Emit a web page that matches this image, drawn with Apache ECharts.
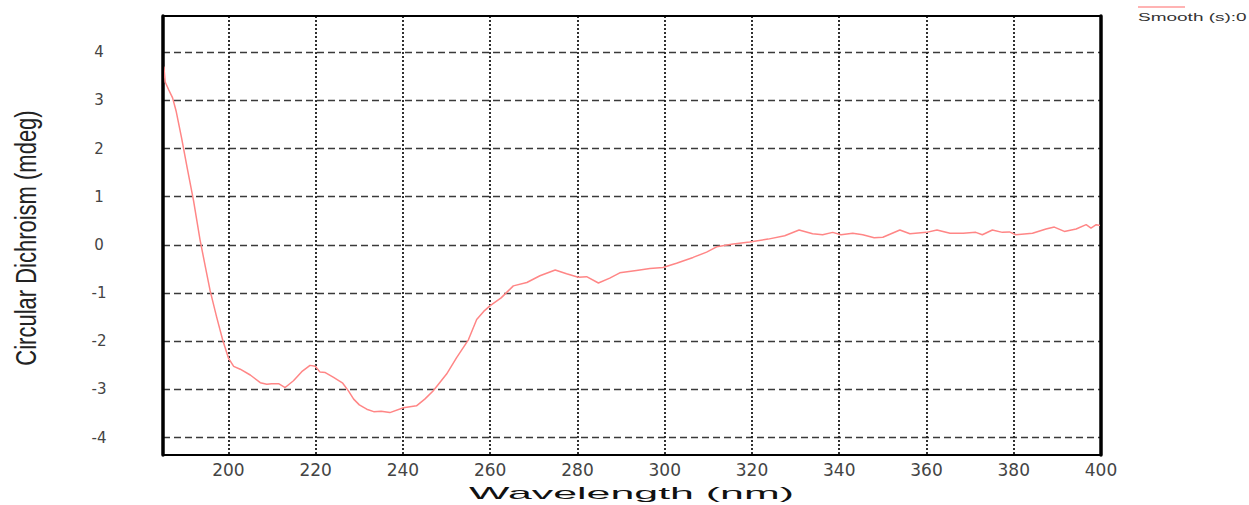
<!DOCTYPE html>
<html>
<head>
<meta charset="utf-8">
<script src="https://cdn.jsdelivr.net/npm/echarts@6/dist/echarts.min.js"></script>
<style>
  html, body { margin: 0; padding: 0; background: #fff; }
  #chart { width: 1249px; height: 505px; }
</style>
</head>
<body>
<div id="chart"></div>
<script>
// CD spectrum (smoothed), wavelength in nm and ellipticity in mdeg
const wavelengths = [
  185.2, 185.5, 186.3, 187.2, 188.0, 189.3, 190.5, 192.0, 193.5, 194.7,
  195.8, 197.3, 198.7, 200.0, 201.2, 202.7, 205.0, 207.3, 208.8, 209.9,
  211.5, 213.0, 214.9, 216.8, 218.7, 219.9, 221.0, 222.2, 224.1, 226.2,
  227.5, 228.7, 230.0, 231.7, 233.3, 235.0, 237.0, 240.1, 243.1, 245.0,
  246.9, 248.5, 250.0, 252.3, 255.0, 256.9, 258.5, 260.0, 262.5, 265.3,
  268.4, 271.4, 274.9, 277.5, 280.2, 282.1, 284.8, 287.4, 289.7, 293.5,
  296.6, 299.6, 302.7, 306.5, 309.6, 311.9, 315.7, 319.5, 323.7, 327.5,
  330.8, 333.9, 336.2, 338.5, 340.4, 343.1, 345.4, 348.0, 350.0, 353.9,
  356.2, 360.0, 362.4, 365.4, 368.4, 371.3, 372.8, 375.1, 377.4, 379.0,
  380.5, 384.3, 387.4, 389.3, 391.6, 394.3, 396.6, 397.7, 398.9, 400.0
];
const cdValues = [
  3.70, 3.38, 3.22, 3.05, 2.78, 2.20, 1.62, 0.92, 0.10, -0.45,
  -0.95, -1.50, -1.98, -2.35, -2.52, -2.58, -2.70, -2.86, -2.89, -2.88,
  -2.88, -2.96, -2.82, -2.63, -2.50, -2.52, -2.64, -2.65, -2.75, -2.87,
  -3.03, -3.20, -3.32, -3.41, -3.46, -3.45, -3.48, -3.38, -3.34, -3.20,
  -3.03, -2.85, -2.68, -2.34, -1.97, -1.55, -1.38, -1.26, -1.10, -0.85,
  -0.78, -0.64, -0.52, -0.60, -0.67, -0.66, -0.79, -0.69, -0.58, -0.53,
  -0.49, -0.47, -0.38, -0.26, -0.15, -0.04, 0.02, 0.06, 0.12, 0.19,
  0.31, 0.23, 0.21, 0.26, 0.21, 0.24, 0.21, 0.15, 0.16, 0.31,
  0.23, 0.26, 0.31, 0.24, 0.24, 0.26, 0.21, 0.31, 0.26, 0.27,
  0.21, 0.24, 0.33, 0.37, 0.28, 0.33, 0.42, 0.35, 0.42, 0.40
];

const xTickValues = [200, 220, 240, 260, 280, 300, 320, 340, 360, 380, 400];
const yTickValues = [-4, -3, -2, -1, 0, 1, 2, 3, 4];

const seriesName = 'Smooth (s):0';
const xTitle = 'Wavelength (nm)';
const yTitle = 'Circular Dichroism (mdeg)';

const xRange = [185, 400];
const yRange = [-4.36, 4.75];

const chart = echarts.init(document.getElementById('chart'), null, { renderer: 'svg' });

chart.setOption({
  animation: false,
  backgroundColor: '#ffffff',
  grid: {
    left: 163, right: 148, top: 16, bottom: 50,
    show: true, z: 10,
    borderColor: '#000', borderWidth: 2,
    backgroundColor: 'transparent'
  },
  xAxis: {
    type: 'value',
    min: xRange[0], max: xRange[1],
    minInterval: 20, maxInterval: 20, splitNumber: 11,
    axisLine: { show: true, onZero: false, lineStyle: { color: '#000', width: 2 } },
    axisTick: { show: false },
    axisLabel: {
      showMinLabel: false,
      margin: 6,
      fontFamily: 'DejaVu Sans', fontSize: 17, color: '#444',
      formatter: v => (xTickValues.includes(v) ? String(v) : '')
    },
    splitLine: {
      show: true, showMinLine: false, showMaxLine: false,
      lineStyle: { color: '#1a1a1a', type: [2, 2], width: 1.8 }
    }
  },
  yAxis: [
    {
      type: 'value',
      min: yRange[0], max: yRange[1],
      minInterval: 1, maxInterval: 1, splitNumber: 9,
      axisLine: { show: true, onZero: false, lineStyle: { color: '#000', width: 3.5 } },
      axisTick: { show: false },
      axisLabel: {
        showMinLabel: false, showMaxLabel: false,
        align: 'center', margin: 64,
        fontFamily: 'DejaVu Sans', fontSize: 15, color: '#444',
        formatter: v => (yTickValues.includes(v) ? String(v) : '')
      },
      splitLine: {
        show: true, showMinLine: false, showMaxLine: false,
        lineStyle: { color: '#3a3a3a', type: [7, 4], width: 1.4 }
      }
    },
    {
      // right frame edge
      type: 'value', position: 'right',
      min: yRange[0], max: yRange[1],
      axisLine: { show: true, onZero: false, lineStyle: { color: '#000', width: 3.5 } },
      axisTick: { show: false },
      axisLabel: { show: false },
      splitLine: { show: false }
    }
  ],
  series: [
    {
      type: 'line',
      name: seriesName,
      data: wavelengths.map((w, i) => [w, cdValues[i]]),
      symbol: 'none',
      showSymbol: false,
      lineStyle: { color: '#ff8686', width: 1.5 },
      clip: true
    }
  ],
  graphic: [
    {
      type: 'text', x: 631.5, y: 494, scaleX: 2.68,
      style: { text: xTitle, font: '16px "Liberation Sans"', fill: '#111', align: 'center', verticalAlign: 'middle' }
    },
    {
      type: 'text', x: 25.5, y: 238, rotation: Math.PI / 2, scaleY: 1.3,
      style: { text: yTitle, font: '22px "Liberation Sans"', fill: '#222', align: 'center', verticalAlign: 'middle' }
    },
    {
      type: 'line',
      shape: { x1: 1138, y1: 7, x2: 1185, y2: 7 },
      style: { stroke: '#ff9a9a', lineWidth: 1.5 }
    },
    {
      type: 'text', x: 1138, y: 17, scaleX: 1.9,
      style: { text: seriesName, font: '10px "Liberation Sans"', fill: '#333', align: 'left', verticalAlign: 'middle' }
    }
  ]
});
</script>
</body>
</html>
